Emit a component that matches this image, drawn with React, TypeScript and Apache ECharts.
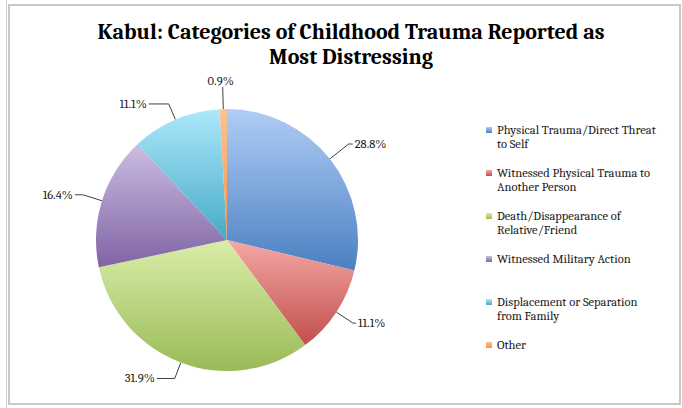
import React, { useEffect, useRef } from "react";
import * as echarts from "echarts";

const categories = [
  "Physical Trauma/Direct Threat\nto Self",
  "Witnessed Physical Trauma to\nAnother Person",
  "Death/Disappearance of\nRelative/Friend",
  "Witnessed Military Action",
  "Displacement or Separation\nfrom Family",
  "Other",
];
const values = [28.8, 11.1, 31.9, 16.4, 11.1, 0.9];
const topColors = ["#b0cdf5", "#f3a8a5", "#d9eda9", "#cbbde2", "#ade8fb", "#fbc394"];
const bottomColors = ["#4b80c2", "#c24f4c", "#9abb57", "#8063a4", "#46aac7", "#f59447"];
const legendColors = ["#4f81bd", "#c0504d", "#9bbb59", "#8064a2", "#4bacc6", "#f79646"];
const lineLengths = [24, 20, 17, 20, 17, 22];
const lineLengths2 = [4, 3, 18, 8, 20, 0];
const titleText = "Kabul: Categories of Childhood Trauma Reported as\nMost Distressing";

export default function App() {
  const ref = useRef<HTMLDivElement>(null);
  useEffect(() => {
    if (!ref.current) return;
    const chart = echarts.init(ref.current, null, { renderer: "svg" });
    const font = "Cambria, 'Liberation Serif', 'DejaVu Serif', serif";
    const names = categories.map((c) => c.replace(/\n/g, " "));
    chart.setOption({
      animation: false,
      backgroundColor: "#ffffff",
      color: legendColors,
      title: {
        text: titleText,
        left: 346,
        top: 14,
        textAlign: "center",
        textStyle: {
          fontFamily: font,
          fontWeight: "bold",
          fontSize: 22,
          lineHeight: 25,
          color: "#000000",
        },
      },
      legend: {
        orient: "vertical",
        left: 481,
        top: 104,
        itemWidth: 6,
        itemHeight: 6,
        itemGap: 1,
        icon: "rect",
        data: names,
        formatter: (n: string) => {
          const idx = names.indexOf(n);
          const parts = categories[idx].split("\n");
          return "\n" + parts[0] + "\n" + (parts[1] || " ");
        },
        textStyle: {
          fontFamily: font,
          fontSize: 12.5,
          lineHeight: 14,
          color: "#1a1a1a",
        },
      },
      graphic: [
        {
          type: "rect",
          shape: { x: 9, y: 5, width: 671, height: 399 },
          style: { fill: "none", stroke: "#c8c8c8", lineWidth: 2 },
          silent: true,
          z: 100,
        },
        {
          type: "line",
          shape: { x1: 6.5, y1: 0, x2: 6.5, y2: 408 },
          style: { stroke: "#d0d0d0", lineWidth: 1 },
          silent: true,
        },
      ],
      series: [
        {
          type: "pie",
          center: [227, 240],
          radius: 131,
          startAngle: 90,
          clockwise: true,
          avoidLabelOverlap: false,
          data: values.map((v, i) => ({
            name: names[i],
            value: v,
            itemStyle: {
              color: new echarts.graphic.LinearGradient(0, 0, 0, 1, [
                { offset: 0, color: topColors[i] },
                { offset: 1, color: bottomColors[i] },
              ]),
            },
            labelLine: { length: lineLengths[i], length2: lineLengths2[i] },
          })),
          itemStyle: { borderWidth: 0 },
          label: {
            show: true,
            position: "outside",
            formatter: (p: any) => p.value.toFixed(1) + "%",
            fontFamily: font,
            fontSize: 12.5,
            color: "#1a1a1a",
            distanceToLabelLine: 2,
          },
          labelLine: {
            show: true,
            lineStyle: { color: "#404040", width: 1 },
          },
          labelLayout: (p: any) =>
            p.dataIndex === 5 ? { align: "center", verticalAlign: "bottom" } : {},
          emphasis: { disabled: true },
        },
      ],
    });
    return () => chart.dispose();
  }, []);
  return (
    <div
      ref={ref}
      style={{ position: "absolute", left: 0, top: 0, width: 682, height: 408 }}
    />
  );
}
